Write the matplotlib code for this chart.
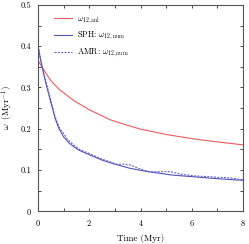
import numpy as np
import matplotlib.pyplot as plt
from matplotlib.ticker import MultipleLocator

plt.rcParams['font.family'] = 'serif'
plt.rcParams['font.serif'] = ['cmr10', 'DejaVu Serif']
plt.rcParams['mathtext.fontset'] = 'cm'
plt.rcParams['axes.formatter.use_mathtext'] = True

# analytic frequency
t_anl = [0, 0.25, 0.5, 0.86, 1.0, 1.4, 2.0, 2.8, 3.4, 4.0, 5.0, 6.0, 7.0, 8.0]
w_anl = [0.365, 0.34, 0.316, 0.293, 0.287, 0.268, 0.246, 0.222, 0.21, 0.199,
         0.186, 0.176, 0.168, 0.161]

# SPH numerical
t_sph = [0, 0.1, 0.2, 0.3, 0.47, 0.66, 0.8, 1.0, 1.2, 1.4, 1.6, 2.0, 2.5, 3.0,
         3.6, 4.2, 5.2, 6.0, 7.0, 8.0]
w_sph = [0.40, 0.366, 0.337, 0.311, 0.27, 0.226, 0.202, 0.18, 0.166, 0.156,
         0.148, 0.137, 0.124, 0.114, 0.104, 0.097, 0.088, 0.084, 0.079, 0.075]

# AMR numerical
t_amr = [0, 0.1, 0.2, 0.3, 0.47, 0.66, 0.85, 1.0, 1.15, 1.4, 1.64, 2.0, 2.42,
         2.8, 3.07, 3.35, 3.6, 3.85, 4.11, 4.375, 4.77, 5.16, 5.6, 6.05, 6.6,
         7.1, 7.5, 7.9, 8.0]
w_amr = [0.40, 0.368, 0.34, 0.315, 0.276, 0.23, 0.2, 0.188, 0.174, 0.16,
         0.149, 0.14, 0.128, 0.12, 0.114, 0.114, 0.112, 0.106, 0.1, 0.095,
         0.096, 0.096, 0.09, 0.086, 0.084, 0.082, 0.081, 0.077, 0.077]

fig = plt.figure(figsize=(2.49, 2.44), dpi=100)
ax = fig.add_axes([0.153, 0.134, 0.823, 0.846])

ax.plot(t_anl, w_anl, color='#f25a5a', lw=0.8, label=r'$\omega_{12,\mathrm{anl}}$')
ax.plot(t_sph, w_sph, color='#5252bc', lw=0.8, label=r'SPH: $\omega_{12,\mathrm{num}}$')
ax.plot(t_amr, w_amr, color='#6060c4', lw=0.8, ls=(0, (1.8, 1.2)),
        label=r'AMR: $\omega_{12,\mathrm{num}}$')

ax.set_xlim(0, 8)
ax.set_ylim(0, 0.5)
ax.xaxis.set_major_locator(MultipleLocator(2))
ax.xaxis.set_minor_locator(MultipleLocator(1))
ax.yaxis.set_major_locator(MultipleLocator(0.1))
ax.yaxis.set_minor_locator(MultipleLocator(0.05))
ax.set_yticks([0, 0.1, 0.2, 0.3, 0.4, 0.5])
ax.set_yticklabels(['0', '0.1', '0.2', '0.3', '0.4', '0.5'])
ax.tick_params(which='both', direction='in', top=True, right=True,
               labelsize=6, length=2.5, width=0.5, pad=5)

for s in ax.spines.values():
    s.set_linewidth(0.8)
    s.set_color('#555555')

ax.set_xlabel('Time (Myr)', fontsize=6.5, labelpad=4)
ax.set_ylabel(r'$\omega\ \ (\mathrm{Myr}^{-1})$', fontsize=6.5, labelpad=4)

ax.legend(loc='upper left', bbox_to_anchor=(0.04, 0.99), frameon=False,
          fontsize=6, handlelength=2.2, handletextpad=0.6, labelspacing=0.5)

fig.savefig('out.png', dpi=100)
